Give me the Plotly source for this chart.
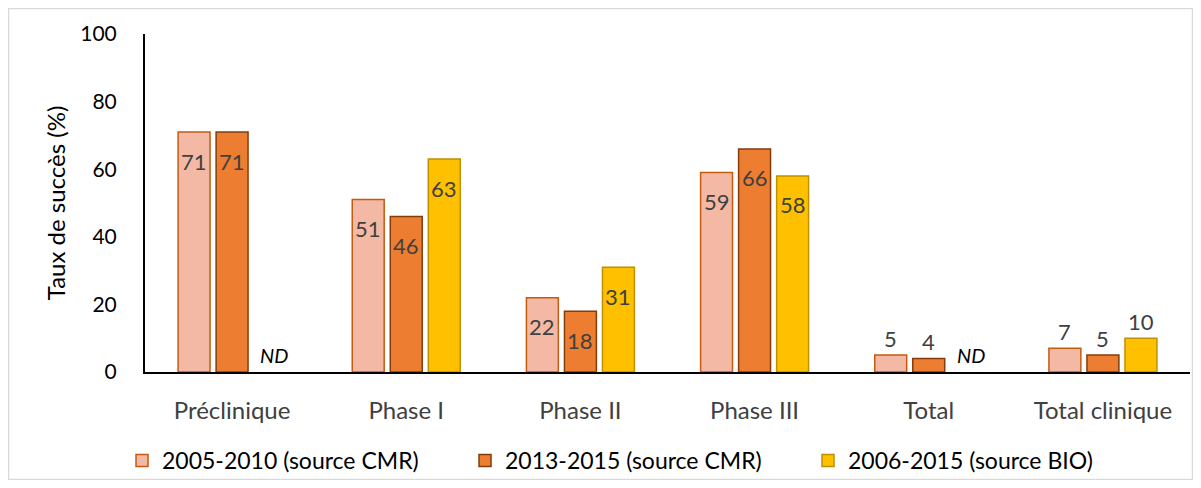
import plotly.graph_objects as go

categories = ["Préclinique", "Phase I", "Phase II", "Phase III", "Total", "Total clinique"]
series_names = ["2005-2010 (source CMR)", "2013-2015 (source CMR)", "2006-2015 (source BIO)"]
cmr_2005_2010 = [71, 51, 22, 59, 5, 7]
cmr_2013_2015 = [71, 46, 18, 66, 4, 5]
bio_2006_2015 = [None, 63, 31, 58, None, 10]  # None = ND (non disponible)

fills = ["#F4B9A5", "#ED7D31", "#FFC000"]
borders = ["#C55A11", "#843C0C", "#BF9000"]
FONT = "Lato, 'Open Sans', sans-serif"
LABEL_COLOR = "#404040"

W, H = 1185, 472
M = dict(l=137, r=3, t=26, b=108, autoexpand=False)
BARGAP, GROUPGAP = 0.345, 0.16
plot_w = W - M["l"] - M["r"]
slot = plot_w / len(categories) * (1 - BARGAP) / 3

fig = go.Figure()
all_series = [cmr_2005_2010, cmr_2013_2015, bio_2006_2015]
for name, vals, fill, border in zip(series_names, all_series, fills, borders):
    fig.add_trace(go.Bar(
        name=name,
        x=categories,
        y=vals,
        marker=dict(color=fill, line=dict(color=border, width=1.5)),
    ))

# data labels: inside near the top for tall bars, just above for short ones
for i, vals in enumerate(all_series):
    for cat, v in zip(categories, vals):
        if v is None:
            fig.add_annotation(x=cat, y=0, text="<i>ND</i>", showarrow=False,
                               xshift=(i - 1) * slot + 4, yshift=17,
                               font=dict(size=20, color="black"))
        else:
            fig.add_annotation(x=cat, y=v, text=str(v), showarrow=False,
                               xshift=(i - 1) * slot, yshift=-29 if v >= 15 else 17,
                               font=dict(size=22, color=LABEL_COLOR))

# light grey frame around the whole chart
fig.add_shape(type="rect", xref="paper", yref="paper",
              x0=-0.1306, x1=1.0024, y0=-0.318, y1=1.0754,
              line=dict(color="#D9D9D9", width=1.5), fillcolor="rgba(0,0,0,0)", layer="below")

fig.update_layout(
    width=W, height=H,
    margin=M,
    paper_bgcolor="white", plot_bgcolor="white",
    font=dict(family=FONT, size=18, color="black"),
    barmode="group",
    bargap=BARGAP,
    bargroupgap=GROUPGAP,
    showlegend=True,
    legend=dict(
        orientation="h", x=-0.022, xanchor="left", y=-0.262, yanchor="middle",
        font=dict(size=23, color="black"),
        bgcolor="rgba(0,0,0,0)",
        entrywidth=298, entrywidthmode="pixels",
        itemwidth=30,
        traceorder="normal",
    ),
    xaxis=dict(
        showline=True, linecolor="black", linewidth=2,
        ticks="", showgrid=False,
        tickfont=dict(size=24, color=LABEL_COLOR),
        ticklabelstandoff=16,
    ),
    yaxis=dict(
        range=[0, 100], dtick=20,
        showline=True, linecolor="black", linewidth=2,
        showgrid=False, zeroline=False, ticks="",
        tickfont=dict(size=21, color="black"),
        ticklabelstandoff=22,
        title=dict(text="Taux de succès (%)", font=dict(size=24, color="black"), standoff=8),
    ),
)

fig.write_html("out.html")
